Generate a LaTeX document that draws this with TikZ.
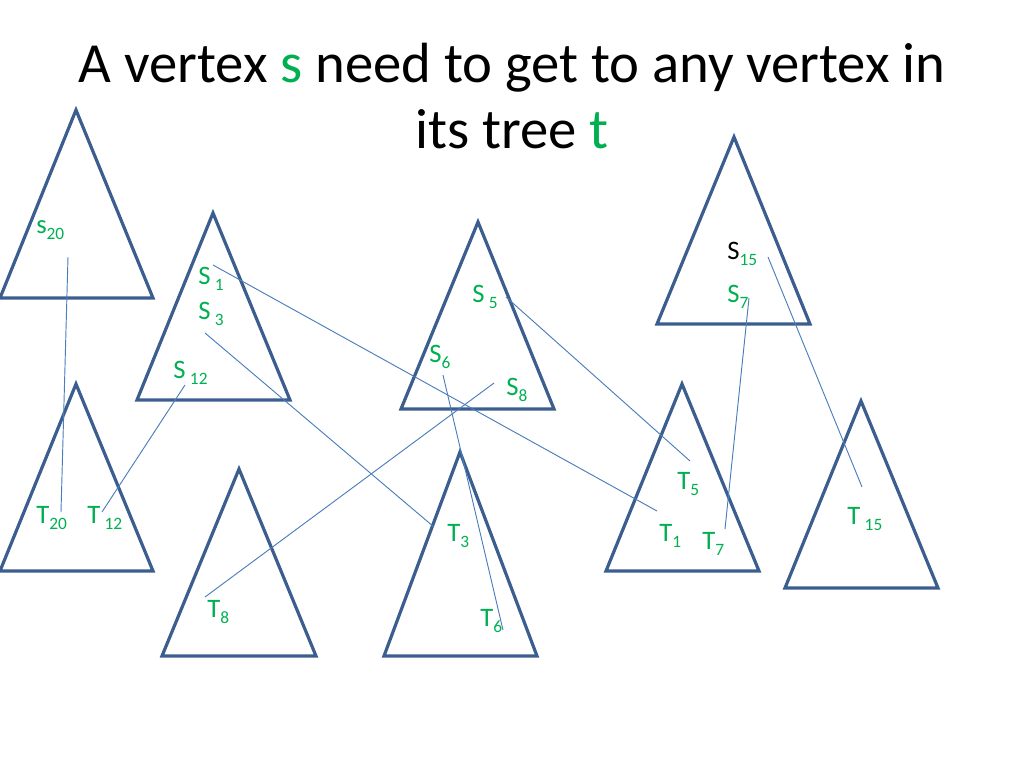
\documentclass[tikz,border=0pt]{standalone}
\usepackage{fontspec}
\setmainfont{Carlito}
\definecolor{trib}{HTML}{3B5E8F}
\definecolor{lnb}{HTML}{4A7EBB}
\definecolor{lgreen}{HTML}{00B050}
\newcommand{\mylab}[3]{#1#2\raisebox{-4.5pt}{\fontsize{13}{13}\selectfont #3}}
\tikzset{
  tri/.style={draw=trib, line width=2.4pt, line join=miter},
  conn/.style={draw=lnb, line width=0.7pt},
  lab/.style={anchor=base west, inner sep=0pt, text=lgreen, font=\fontsize{20}{20}\selectfont},
  ttl/.style={anchor=base, inner sep=0pt, font=\fontsize{42.5}{42.5}\selectfont}
}
\begin{document}
\begin{tikzpicture}[x=0.75pt, y=-0.75pt]
\useasboundingbox (0,0) rectangle (1024,768);
% title
\node[ttl] (t1) at (512,82) {A vertex \textcolor{lgreen}{s} need to get to any vertex in};
\node[ttl] (t2) at (512,148) {its tree \textcolor{lgreen}{t}};
% triangles
\draw[tri] (76,110) -- (153,298) -- (0,298) -- cycle;
\draw[tri] (213,213) -- (290,400) -- (137,400) -- cycle;
\draw[tri] (478,222) -- (554,409) -- (401,409) -- cycle;
\draw[tri] (734,137) -- (810,324) -- (657,324) -- cycle;
\draw[tri] (76,384) -- (153,571) -- (0,571) -- cycle;
\draw[tri] (239,469) -- (316,656) -- (162,656) -- cycle;
\draw[tri] (460,452) -- (537,656) -- (384,656) -- cycle;
\draw[tri] (682,384) -- (759,571) -- (606,571) -- cycle;
\draw[tri] (861,401) -- (938,588) -- (785,588) -- cycle;
% labels
\node[lab] (ls20) at (36,233) {\mylab{s}{}{20}};
\node[lab] (ls1) at (198,284) {\mylab{S}{\,}{1}};
\node[lab] (ls3) at (198,319) {\mylab{S}{\,}{3}};
\node[lab] (ls12) at (173,378) {\mylab{S}{\,}{12}};
\node[lab] (ls5) at (472,302) {\mylab{S}{\,}{5}};
\node[lab] (ls6) at (429,362) {\mylab{S}{}{6}};
\node[lab] (ls8) at (506,395) {\mylab{S}{}{8}};
\node[lab] (ls15) at (727,259) {\textcolor{black}{S}\raisebox{-4.5pt}{\fontsize{13}{13}\selectfont 15}};
\node[lab] (ls7) at (727,302) {\mylab{S}{}{7}};
\node[lab] (lt20) at (36,523) {\mylab{T}{}{20}};
\node[lab] (lt12) at (87,523) {\mylab{T}{\,}{12}};
\node[lab] (lt3) at (447,541) {\mylab{T}{}{3}};
\node[lab] (lt6) at (480,626) {\mylab{T}{}{6}};
\node[lab] (lt5) at (677,489) {\mylab{T}{}{5}};
\node[lab] (lt1) at (659,541) {\mylab{T}{}{1}};
\node[lab] (lt7) at (702,549) {\mylab{T}{}{7}};
\node[lab] (lt15) at (847,524) {\mylab{T}{\,}{15}};
\node[lab] (lt8) at (207,617) {\mylab{T}{}{8}};
% connector end points
\coordinate (s20) at (68,257);   \coordinate (t20) at (61,512);
\coordinate (s1) at (213,265);   \coordinate (t1e) at (657,511);
\coordinate (s3) at (205,333);   \coordinate (t3) at (434,527);
\coordinate (s12) at (185,385);  \coordinate (t12) at (102,512);
\coordinate (s5) at (506,297);   \coordinate (t5) at (690,461);
\coordinate (s6) at (443,375);   \coordinate (t6) at (503,630);
\coordinate (s8) at (494,383);   \coordinate (t8) at (205,597);
\coordinate (s7) at (749,298);   \coordinate (t7) at (725,529);
\coordinate (s15) at (768,257);  \coordinate (t15) at (862,487);
% connectors
\draw[conn] (s20) -- (t20);
\draw[conn] (s1) -- (t1e);
\draw[conn] (s3) -- (t3);
\draw[conn] (s12) -- (t12);
\draw[conn] (s5) -- (t5);
\draw[conn] (s6) -- (t6);
\draw[conn] (s8) -- (t8);
\draw[conn] (s7) -- (t7);
\draw[conn] (s15) -- (t15);
\end{tikzpicture}
\end{document}
